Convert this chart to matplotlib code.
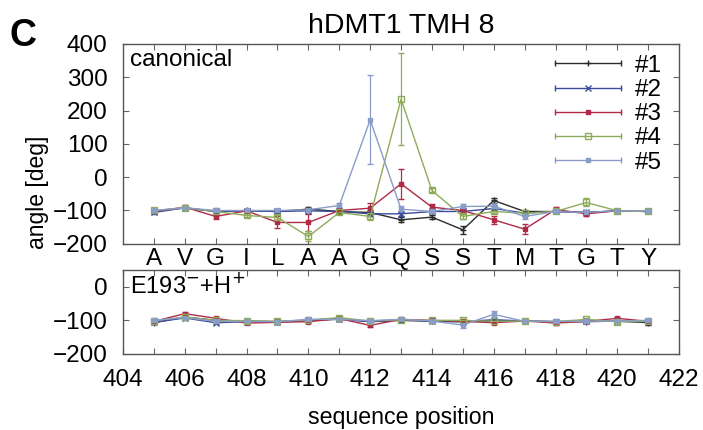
import matplotlib
matplotlib.use('Agg')
import matplotlib.pyplot as plt
import numpy as np
from matplotlib.lines import Line2D
from matplotlib.legend_handler import HandlerBase

plt.rcParams['font.family'] = ['Liberation Sans', 'DejaVu Sans']

positions = list(range(405, 422))
residues = ['A', 'V', 'G', 'I', 'L', 'A', 'A', 'G', 'Q', 'S', 'S', 'T', 'M', 'T', 'G', 'T', 'Y']
labels = ['#1', '#2', '#3', '#4', '#5']

# canonical state
canon = [
    [-103, -92, -103, -100, -103, -96, -103, -106, -128, -120, -158, -70, -103, -103, -106, -101, -103],
    [-106, -92, -103, -101, -103, -101, -103, -110, -110, -103, -103, -94, -108, -103, -106, -101, -103],
    [-103, -90, -118, -101, -136, -136, -100, -93, -20, -90, -100, -128, -156, -97, -110, -101, -103],
    [-100, -92, -103, -115, -121, -178, -106, -118, 234, -40, -118, -103, -108, -103, -76, -101, -103],
    [-100, -92, -100, -100, -100, -98, -85, 172, -96, -103, -88, -87, -118, -103, -106, -101, -101],
]
canon_err = [
    [5, 5, 5, 5, 5, 6, 5, 6, 8, 7, 12, 8, 5, 5, 5, 5, 5],
    [5, 5, 5, 5, 5, 5, 5, 6, 6, 5, 5, 6, 5, 5, 5, 5, 5],
    [5, 6, 8, 5, 18, 25, 5, 15, 45, 8, 6, 12, 15, 8, 6, 5, 5],
    [5, 5, 5, 6, 8, 15, 5, 10, 138, 6, 8, 6, 6, 5, 12, 5, 5],
    [5, 5, 5, 5, 5, 5, 6, 134, 8, 6, 6, 8, 8, 5, 5, 5, 5],
]

# E193- + H+ state
prot = [
    [-107, -90, -100, -102, -104, -100, -95, -104, -100, -103, -104, -102, -102, -104, -104, -102, -107],
    [-106, -93, -107, -104, -104, -100, -97, -104, -98, -102, -104, -98, -102, -104, -102, -103, -104],
    [-103, -80, -94, -108, -106, -104, -95, -115, -97, -100, -103, -107, -102, -108, -103, -94, -103],
    [-101, -90, -100, -101, -103, -99, -92, -102, -98, -100, -100, -103, -102, -104, -97, -104, -103],
    [-100, -92, -103, -103, -104, -97, -97, -101, -97, -102, -114, -82, -103, -103, -103, -102, -100],
]
prot_err = [
    [5, 5, 5, 4, 4, 4, 4, 4, 4, 4, 4, 4, 4, 4, 4, 4, 6],
    [5, 5, 5, 4, 4, 4, 4, 4, 4, 4, 4, 4, 4, 4, 4, 4, 4],
    [5, 6, 5, 4, 4, 4, 4, 5, 4, 4, 4, 5, 4, 5, 4, 5, 4],
    [5, 5, 5, 4, 4, 4, 5, 4, 4, 4, 4, 4, 4, 4, 5, 4, 4],
    [5, 5, 5, 4, 4, 4, 4, 4, 4, 4, 8, 10, 4, 4, 4, 4, 4],
]

colors = ['#2b2b2b', '#3a4c9c', '#b02a48', '#8eab5a', '#8a9cc8']
markers = ['+', 'x', 's', 's', 's']
mfcs = ['#2b2b2b', '#3a4c9c', '#b02a48', 'none', '#8a9cc8']
msizes = [4, 4, 3.5, 4.5, 3.5]


class CapHandler(HandlerBase):
    # gnuplot-like key: horizontal bar with end caps and the point in the middle
    def create_artists(self, legend, orig_handle, xdescent, ydescent,
                       width, height, fontsize, trans):
        y = height / 2 - ydescent
        x0, x1 = -xdescent, width - xdescent
        c = orig_handle.get_color()
        l1 = Line2D([x0, x1], [y, y], color=c, lw=1.0, marker='|', ms=5, mew=1.0)
        l2 = Line2D([(x0 + x1) / 2], [y], color=c, lw=0, marker=orig_handle.get_marker(),
                    ms=orig_handle.get_markersize(), mfc=orig_handle.get_markerfacecolor(),
                    mec=c, mew=1.0)
        l1.set_transform(trans)
        l2.set_transform(trans)
        return [l1, l2]


fig = plt.figure(figsize=(7.03, 4.30), dpi=100)
ax1 = fig.add_axes([0.175, 0.433, 0.791, 0.465])
ax2 = fig.add_axes([0.175, 0.177, 0.791, 0.195])

handles = []
for i in range(5):
    eb = ax1.errorbar(positions, canon[i], yerr=canon_err[i], color=colors[i], lw=1.0,
                      marker=markers[i], ms=msizes[i], mfc=mfcs[i], mec=colors[i], mew=1.0,
                      capsize=2, elinewidth=0.9, capthick=0.9)
    handles.append(eb[0])
    ax2.errorbar(positions, prot[i], yerr=prot_err[i], color=colors[i], lw=1.0,
                 marker=markers[i], ms=msizes[i], mfc=mfcs[i], mec=colors[i], mew=1.0,
                 capsize=2, elinewidth=0.9, capthick=0.9)

for ax in (ax1, ax2):
    ax.set_xlim(404, 422)
    ax.tick_params(direction='in', length=4, width=0.8, top=True, right=True,
                   labelsize=17.5, color='#666666')
    ax.tick_params(axis='y', pad=11)
    for s in ax.spines.values():
        s.set_color('#555555')
        s.set_linewidth(1.0)

ax1.set_ylim(-200, 400)
ax1.set_yticks(range(-200, 401, 100))
ax1.set_xticks(positions)
ax1.set_xticklabels(residues)
ax1.tick_params(axis='x', pad=3)
ax1.set_title('hDMT1 TMH 8', fontsize=20.5, pad=8)
ax1.text(0.012, 0.975, 'canonical', transform=ax1.transAxes, fontsize=17.5, va='top', ha='left')

ax2.set_ylim(-200, 50)
ax2.set_yticks([-200, -100, 0])
ax2.set_xticks(range(404, 423))
ax2.set_xticklabels([str(p) if p % 2 == 0 else '' for p in range(404, 423)])
ax2.tick_params(axis='x', pad=11)
ax2.set_xlabel('sequence position', fontsize=16.7, labelpad=11)
ax2.text(0.012, 0.97, 'E193$^{-}$+H$^{+}$', transform=ax2.transAxes, fontsize=17, va='top', ha='left')

ax1.legend(handles, labels, handler_map={Line2D: CapHandler()}, loc='upper right',
           bbox_to_anchor=(1.0, 1.03), frameon=False, fontsize=17.5, handlelength=2.7,
           handletextpad=0.6, labelspacing=0.09, borderaxespad=0.3)

fig.text(0.053, 0.553, 'angle [deg]', fontsize=16.5, rotation=90, ha='center', va='center')
fig.text(0.014, 0.916, 'C', fontsize=27, fontweight='bold', ha='left', va='center')

fig.savefig('out.png', dpi=100)
